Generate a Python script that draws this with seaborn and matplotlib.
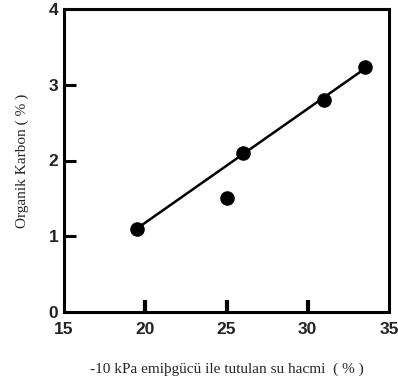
import numpy as np
import pandas as pd
import matplotlib
matplotlib.use("Agg")
import matplotlib.pyplot as plt
import seaborn as sns

# values
water = [19.5, 25.0, 26.0, 31.0, 33.5]
carbon = [1.10, 1.50, 2.10, 2.80, 3.23]
in_fit = [True, False, True, True, True]
x_ticks = [15, 20, 25, 30, 35]
y_ticks = [0, 1, 2, 3, 4]

df = pd.DataFrame({"water": water, "carbon": carbon, "fit": in_fit})

sns.set_theme(style="ticks")
plt.rcParams["font.family"] = ["Liberation Sans", "DejaVu Sans"]

fig = plt.figure(figsize=(3.98, 3.81), dpi=100)
ax = fig.add_axes([64 / 398, 1 - 312 / 381, 325 / 398, 303 / 381])

# trend line through the points used in the fit
sub = df[df["fit"]]
slope, icept = np.polyfit(sub["water"], sub["carbon"], 1)
line = pd.DataFrame({"water": [sub["water"].min(), sub["water"].max()]})
line["carbon"] = icept + slope * line["water"]
sns.lineplot(data=line, x="water", y="carbon", color="black", linewidth=1.8, ax=ax)

sns.scatterplot(data=df, x="water", y="carbon", color="black", s=110,
                edgecolor="black", linewidth=0, ax=ax, zorder=3)

ax.set_xlim(15, 35)
ax.set_ylim(0, 4)
ax.set_xticks(x_ticks)
ax.set_yticks(y_ticks)
ax.tick_params(axis="both", direction="in", color="black", labelsize=12.5)
ax.tick_params(axis="x", length=8.5, width=3, pad=7.5)
ax.tick_params(axis="y", length=8.5, width=2.2, pad=4)
for lab in ax.get_xticklabels() + ax.get_yticklabels():
    lab.set_fontweight("bold")
    lab.set_color("#222222")

# no tick marks at the corners
for t in (ax.xaxis.get_major_ticks()[0], ax.xaxis.get_major_ticks()[-1],
          ax.yaxis.get_major_ticks()[0], ax.yaxis.get_major_ticks()[-1]):
    t.tick1line.set_visible(False)

for sp in ax.spines.values():
    sp.set_linewidth(2.2)
    sp.set_color("black")

ax.set_xlabel("-10 kPa emiþgücü ile tutulan su hacmi  ( % )",
              family=["Liberation Serif", "DejaVu Serif"], fontsize=11, labelpad=18)
ax.set_ylabel("Organik Karbon ( % )",
              family=["Liberation Serif", "DejaVu Serif"], fontsize=11, labelpad=14)

fig.savefig("out.png", dpi=100)
